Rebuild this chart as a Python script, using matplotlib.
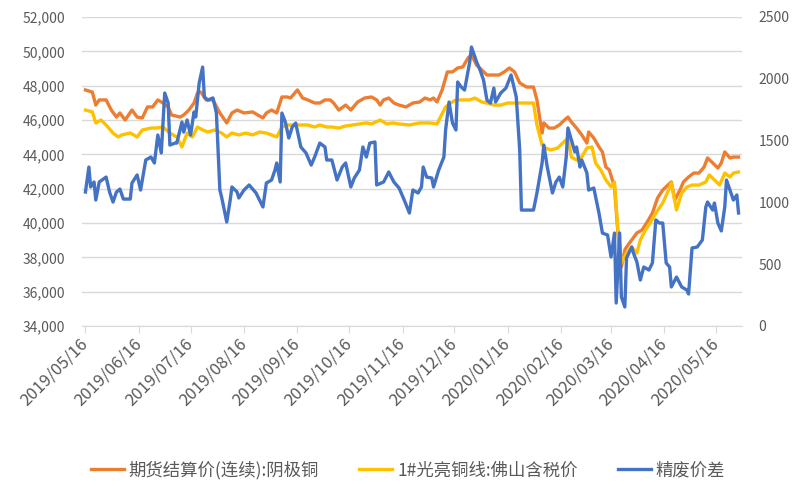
import matplotlib
matplotlib.use("Agg")
import matplotlib.pyplot as plt
import pandas as pd
from matplotlib.ticker import FuncFormatter

plt.rcParams["font.family"] = ["Noto Sans CJK SC", "DejaVu Sans"]

# === DATA ===

labels = ["期货结算价(连续):阴极铜", "1#光亮铜线:佛山含税价", "精废价差"]

fut_dates = [
    "2019-05-16", "2019-05-20", "2019-05-22", "2019-05-24", "2019-05-28", "2019-05-31",
    "2019-06-03", "2019-06-05", "2019-06-08", "2019-06-12", "2019-06-15", "2019-06-18",
    "2019-06-21", "2019-06-24", "2019-06-27", "2019-06-30",
    "2019-07-03", "2019-07-05", "2019-07-10", "2019-07-12", "2019-07-15", "2019-07-18",
    "2019-07-20", "2019-07-22", "2019-07-25", "2019-07-29",
    "2019-08-02", "2019-08-06", "2019-08-09", "2019-08-12", "2019-08-16", "2019-08-21",
    "2019-08-24", "2019-08-27", "2019-08-29",
    "2019-09-01", "2019-09-04", "2019-09-07", "2019-09-10", "2019-09-12", "2019-09-16",
    "2019-09-19", "2019-09-22", "2019-09-26", "2019-09-29",
    "2019-10-02", "2019-10-05", "2019-10-07", "2019-10-10", "2019-10-14", "2019-10-17",
    "2019-10-21", "2019-10-25", "2019-10-29",
    "2019-11-01", "2019-11-03", "2019-11-05", "2019-11-08", "2019-11-11", "2019-11-14",
    "2019-11-18", "2019-11-22", "2019-11-26", "2019-11-29",
    "2019-12-02", "2019-12-04", "2019-12-06", "2019-12-09", "2019-12-12", "2019-12-15",
    "2019-12-18", "2019-12-21", "2019-12-24", "2019-12-26", "2019-12-29",
    "2020-01-01", "2020-01-04", "2020-01-07", "2020-01-11", "2020-01-14", "2020-01-17",
    "2020-01-20", "2020-01-23", "2020-01-27", "2020-01-31",
    "2020-02-02", "2020-02-05", "2020-02-06", "2020-02-09", "2020-02-12", "2020-02-15",
    "2020-02-18", "2020-02-20", "2020-02-22", "2020-02-25", "2020-02-28",
    "2020-03-02", "2020-03-03", "2020-03-06", "2020-03-09", "2020-03-11", "2020-03-13",
    "2020-03-15", "2020-03-18", "2020-03-20", "2020-03-22", "2020-03-24", "2020-03-25",
    "2020-03-28", "2020-03-31",
    "2020-04-03", "2020-04-06", "2020-04-09", "2020-04-12", "2020-04-15", "2020-04-18",
    "2020-04-20", "2020-04-22", "2020-04-25", "2020-04-27", "2020-04-30",
    "2020-05-03", "2020-05-06", "2020-05-09", "2020-05-11", "2020-05-14", "2020-05-17",
    "2020-05-19", "2020-05-21", "2020-05-24", "2020-05-26", "2020-05-29",
]
fut_vals = [
    47750, 47630, 46870, 47170, 47170, 46580,
    46170, 46410, 46000, 46580, 46170, 46120, 46760, 46760, 47170, 46990,
    46760, 46290, 46170, 46290, 46580, 46990, 47570, 47630, 47170, 47170,
    46410, 45830, 46410, 46580, 46410, 46470, 46290, 46120, 46410,
    46580, 46410, 47340, 47340, 47280, 47750, 47280, 47170, 46990, 46990,
    47170, 47170, 46990, 46580, 46870, 46580, 47050, 47280, 47340,
    47170, 46870, 47170, 47280, 46990, 46870, 46760, 46990, 47050, 47280,
    47170, 47280, 47050, 47750, 48800, 48800, 49030, 49090, 49610, 49790, 49200,
    48910, 48620, 48620, 48620, 48800, 49030, 48800, 48160, 47920, 47920,
    47170, 45240, 45830, 45530, 45530, 45710, 46000, 46170, 45880, 45530, 45130,
    44660, 45300, 44950, 44430, 44140, 43260, 43090, 42100, 39420, 37440, 38430,
    38600, 39010, 39420,
    39590, 40060, 40580, 41460, 41920, 42210, 42390, 41340, 41920, 42390, 42680,
    42910, 42910, 43260, 43790, 43500, 43200, 43500, 44140, 43790, 43840, 43840,
]

wire_dates = [
    "2019-05-16", "2019-05-20", "2019-05-22", "2019-05-25", "2019-05-28",
    "2019-06-01", "2019-06-04", "2019-06-06", "2019-06-11", "2019-06-15", "2019-06-18",
    "2019-06-23", "2019-06-26", "2019-06-30",
    "2019-07-04", "2019-07-08", "2019-07-11", "2019-07-14", "2019-07-17", "2019-07-20",
    "2019-07-23", "2019-07-26", "2019-07-30",
    "2019-08-03", "2019-08-06", "2019-08-09", "2019-08-13", "2019-08-17", "2019-08-21",
    "2019-08-25", "2019-08-29",
    "2019-09-01", "2019-09-04", "2019-09-07", "2019-09-10", "2019-09-14", "2019-09-18",
    "2019-09-22", "2019-09-26", "2019-09-29",
    "2019-10-03", "2019-10-06", "2019-10-10", "2019-10-14", "2019-10-18", "2019-10-22",
    "2019-10-26", "2019-10-29",
    "2019-11-03", "2019-11-07", "2019-11-10", "2019-11-14", "2019-11-20", "2019-11-26",
    "2019-12-02", "2019-12-06", "2019-12-08", "2019-12-11", "2019-12-14", "2019-12-17",
    "2019-12-21", "2019-12-25", "2019-12-28",
    "2020-01-01", "2020-01-04", "2020-01-08", "2020-01-12", "2020-01-16", "2020-01-21",
    "2020-01-27", "2020-01-31",
    "2020-02-02", "2020-02-05", "2020-02-07", "2020-02-10", "2020-02-14", "2020-02-17",
    "2020-02-20", "2020-02-22", "2020-02-25", "2020-02-28",
    "2020-03-02", "2020-03-05", "2020-03-07", "2020-03-10", "2020-03-13", "2020-03-16",
    "2020-03-18", "2020-03-20", "2020-03-22", "2020-03-25", "2020-03-28", "2020-03-31",
    "2020-04-02", "2020-04-05", "2020-04-08", "2020-04-11", "2020-04-15", "2020-04-19",
    "2020-04-20", "2020-04-23", "2020-04-26", "2020-04-29",
    "2020-05-02", "2020-05-06", "2020-05-10", "2020-05-12", "2020-05-15", "2020-05-18",
    "2020-05-21", "2020-05-24", "2020-05-26", "2020-05-29",
]
wire_vals = [
    46580, 46470, 45830, 46000, 45710,
    45240, 45010, 45130, 45240, 45010, 45420, 45530, 45530, 45590,
    45240, 45010, 44430, 45240, 45010, 45590, 45420, 45300, 45420,
    45240, 45010, 45240, 45130, 45240, 45130, 45300, 45240,
    45130, 45010, 45590, 45710, 45710, 45710, 45710, 45590, 45710,
    45590, 45590, 45530, 45650, 45710, 45770, 45830, 45770,
    46000, 45770, 45830, 45770, 45710, 45830,
    45830, 45770, 46170, 46760, 46990, 47170, 47170, 47170, 47280,
    47050, 46990, 46870, 46870, 46990, 46990, 46990, 46990,
    45710, 44540, 44370, 44250, 44370, 44660, 44950, 43840, 43670, 43840,
    44370, 44430, 43500, 43090, 42510, 42100, 42390, 39590, 37670, 38250, 38600, 38250,
    39010, 39590, 40060, 40580, 41170, 42040, 42330, 40760, 41750, 42100,
    42210, 42210, 42390, 42800, 42510, 42210, 42910, 42680, 42910, 42970,
]

spread_dates = [
    "2019-05-16", "2019-05-18", "2019-05-19", "2019-05-21", "2019-05-22", "2019-05-24",
    "2019-05-28", "2019-05-30",
    "2019-06-01", "2019-06-03", "2019-06-05", "2019-06-07", "2019-06-11", "2019-06-12",
    "2019-06-15", "2019-06-17", "2019-06-20", "2019-06-23", "2019-06-25", "2019-06-27",
    "2019-06-29",
    "2019-07-01", "2019-07-03", "2019-07-04", "2019-07-07", "2019-07-08", "2019-07-11",
    "2019-07-12", "2019-07-14", "2019-07-16", "2019-07-18", "2019-07-19", "2019-07-21",
    "2019-07-23", "2019-07-24", "2019-07-26", "2019-07-29", "2019-07-31",
    "2019-08-02", "2019-08-03", "2019-08-06", "2019-08-08", "2019-08-09", "2019-08-12",
    "2019-08-13", "2019-08-16", "2019-08-19", "2019-08-23", "2019-08-27", "2019-08-29",
    "2019-09-01", "2019-09-03", "2019-09-04", "2019-09-06", "2019-09-07", "2019-09-09",
    "2019-09-11", "2019-09-13", "2019-09-15", "2019-09-18", "2019-09-21", "2019-09-24",
    "2019-09-26", "2019-09-29",
    "2019-10-02", "2019-10-03", "2019-10-06", "2019-10-09", "2019-10-12", "2019-10-14",
    "2019-10-17", "2019-10-19", "2019-10-22", "2019-10-24", "2019-10-26", "2019-10-28",
    "2019-10-31",
    "2019-11-01", "2019-11-05", "2019-11-08", "2019-11-11", "2019-11-14", "2019-11-17",
    "2019-11-20", "2019-11-22", "2019-11-25", "2019-11-27", "2019-11-28", "2019-11-30",
    "2019-12-03", "2019-12-04", "2019-12-07", "2019-12-10", "2019-12-11", "2019-12-13",
    "2019-12-15", "2019-12-17", "2019-12-18", "2019-12-20", "2019-12-22", "2019-12-25",
    "2019-12-26", "2019-12-29", "2019-12-31",
    "2020-01-02", "2020-01-04", "2020-01-06", "2020-01-08", "2020-01-09", "2020-01-12",
    "2020-01-15", "2020-01-18", "2020-01-21", "2020-01-23", "2020-01-24", "2020-01-31",
    "2020-02-02", "2020-02-05", "2020-02-06", "2020-02-08", "2020-02-11", "2020-02-13",
    "2020-02-15", "2020-02-17", "2020-02-19", "2020-02-20", "2020-02-22", "2020-02-24",
    "2020-02-25", "2020-02-27", "2020-02-28",
    "2020-03-02", "2020-03-03", "2020-03-06", "2020-03-09", "2020-03-11", "2020-03-14",
    "2020-03-16", "2020-03-18", "2020-03-19", "2020-03-21", "2020-03-22", "2020-03-24",
    "2020-03-25", "2020-03-28", "2020-03-29", "2020-03-31",
    "2020-04-02", "2020-04-04", "2020-04-07", "2020-04-09", "2020-04-11", "2020-04-13",
    "2020-04-15", "2020-04-17", "2020-04-19", "2020-04-20", "2020-04-23", "2020-04-26",
    "2020-04-29", "2020-04-30",
    "2020-05-02", "2020-05-05", "2020-05-08", "2020-05-10", "2020-05-11", "2020-05-14",
    "2020-05-15", "2020-05-17", "2020-05-19", "2020-05-21", "2020-05-22", "2020-05-25",
    "2020-05-26", "2020-05-28", "2020-05-29",
]
spread_vals = [
    1084, 1286, 1125, 1165, 1019, 1165, 1205, 1084,
    1003, 1084, 1108, 1027, 1027, 1157, 1222, 1100, 1343, 1367, 1319, 1545, 1400,
    1885, 1804, 1464, 1480, 1480, 1650, 1569, 1667, 1545, 1731, 1691, 1966, 2095,
    1853, 1828, 1845, 1723,
    1100, 1044, 841, 1019, 1125, 1084, 1036, 1100, 1141, 1076, 963, 1157,
    1181, 1262, 1319, 1165, 1723, 1650, 1521, 1610, 1642, 1448, 1400, 1302, 1367, 1480,
    1448, 1343, 1343, 1181, 1286, 1319, 1125, 1197, 1262, 1448, 1367, 1480, 1489,
    1141, 1165, 1246, 1165, 1116, 1019, 914, 1100, 1076, 1125, 1286, 1205,
    1197, 1125, 1262, 1367, 1586, 1812, 1642, 1586, 1974, 1934, 1909, 2136, 2257,
    2136, 2071,
    1990, 1828, 1804, 1925, 1812, 1885, 1925, 2031, 1853, 1424, 938, 938,
    1076, 1319, 1464, 1286, 1076, 1165, 1205, 1125, 1367, 1602, 1505, 1408, 1448,
    1286, 1343,
    1238, 1100, 1116, 914, 752, 736, 558, 752, 186, 752, 235, 154, 550, 639, 591, 518,
    372, 477, 453, 510, 858, 833, 833, 510, 477, 316, 396, 316, 291, 259,
    631, 639, 696, 963, 1003, 938, 995, 833, 769, 963, 1181, 1060, 1019, 1060, 914,
]

# === PLOT ===

grey = "#595959"
fig = plt.figure(figsize=(8, 5), dpi=100)
ax = fig.add_axes([0.1025, 0.348, 0.825, 0.618])
ax2 = ax.twinx()

l1, = ax.plot(pd.to_datetime(fut_dates), fut_vals, color="#ED7D31", lw=2.4)
l2, = ax.plot(pd.to_datetime(wire_dates), wire_vals, color="#FFC000", lw=2.4)
l3, = ax2.plot(pd.to_datetime(spread_dates), spread_vals, color="#4472C4", lw=2.4)

ax.set_ylim(34000, 52000)
ax.set_yticks(range(34000, 52001, 2000))
ax.yaxis.set_major_formatter(FuncFormatter(lambda v, p: f"{v:,.0f}"))
ax2.set_ylim(0, 2500)
ax2.set_yticks(range(0, 2501, 500))

ax.grid(axis="y", color="#D9D9D9", lw=1)
ax.set_axisbelow(True)
for s in ["top", "left", "right"]:
    ax.spines[s].set_visible(False)
for s in ["top", "left", "right", "bottom"]:
    ax2.spines[s].set_visible(False)
ax.spines["bottom"].set_color("#D9D9D9")

ax.tick_params(axis="y", length=0, pad=12, labelsize=10, labelcolor=grey)
ax2.tick_params(axis="y", length=0, pad=12, labelsize=10, labelcolor=grey)
ax.tick_params(axis="x", length=5, pad=6, color="#D9D9D9", labelsize=12, labelcolor=grey)

xticks = [pd.Timestamp("2019-05-16") + pd.DateOffset(months=i) for i in range(13)]
ax.set_xticks(xticks)
ax.set_xticklabels([d.strftime("%Y/%m/%d") for d in xticks], rotation=45,
                   ha="right", va="center", rotation_mode="anchor")
ax.set_xlim(pd.Timestamp("2019-05-14"), pd.Timestamp("2020-05-31"))

fig.legend([l1, l2, l3], labels, loc="center", bbox_to_anchor=(0.51, 0.06), ncol=3,
           frameon=False, fontsize=12.5, handlelength=1.9, handletextpad=0.3,
           columnspacing=2.3, labelcolor=grey)

fig.savefig("out.png", dpi=100)
